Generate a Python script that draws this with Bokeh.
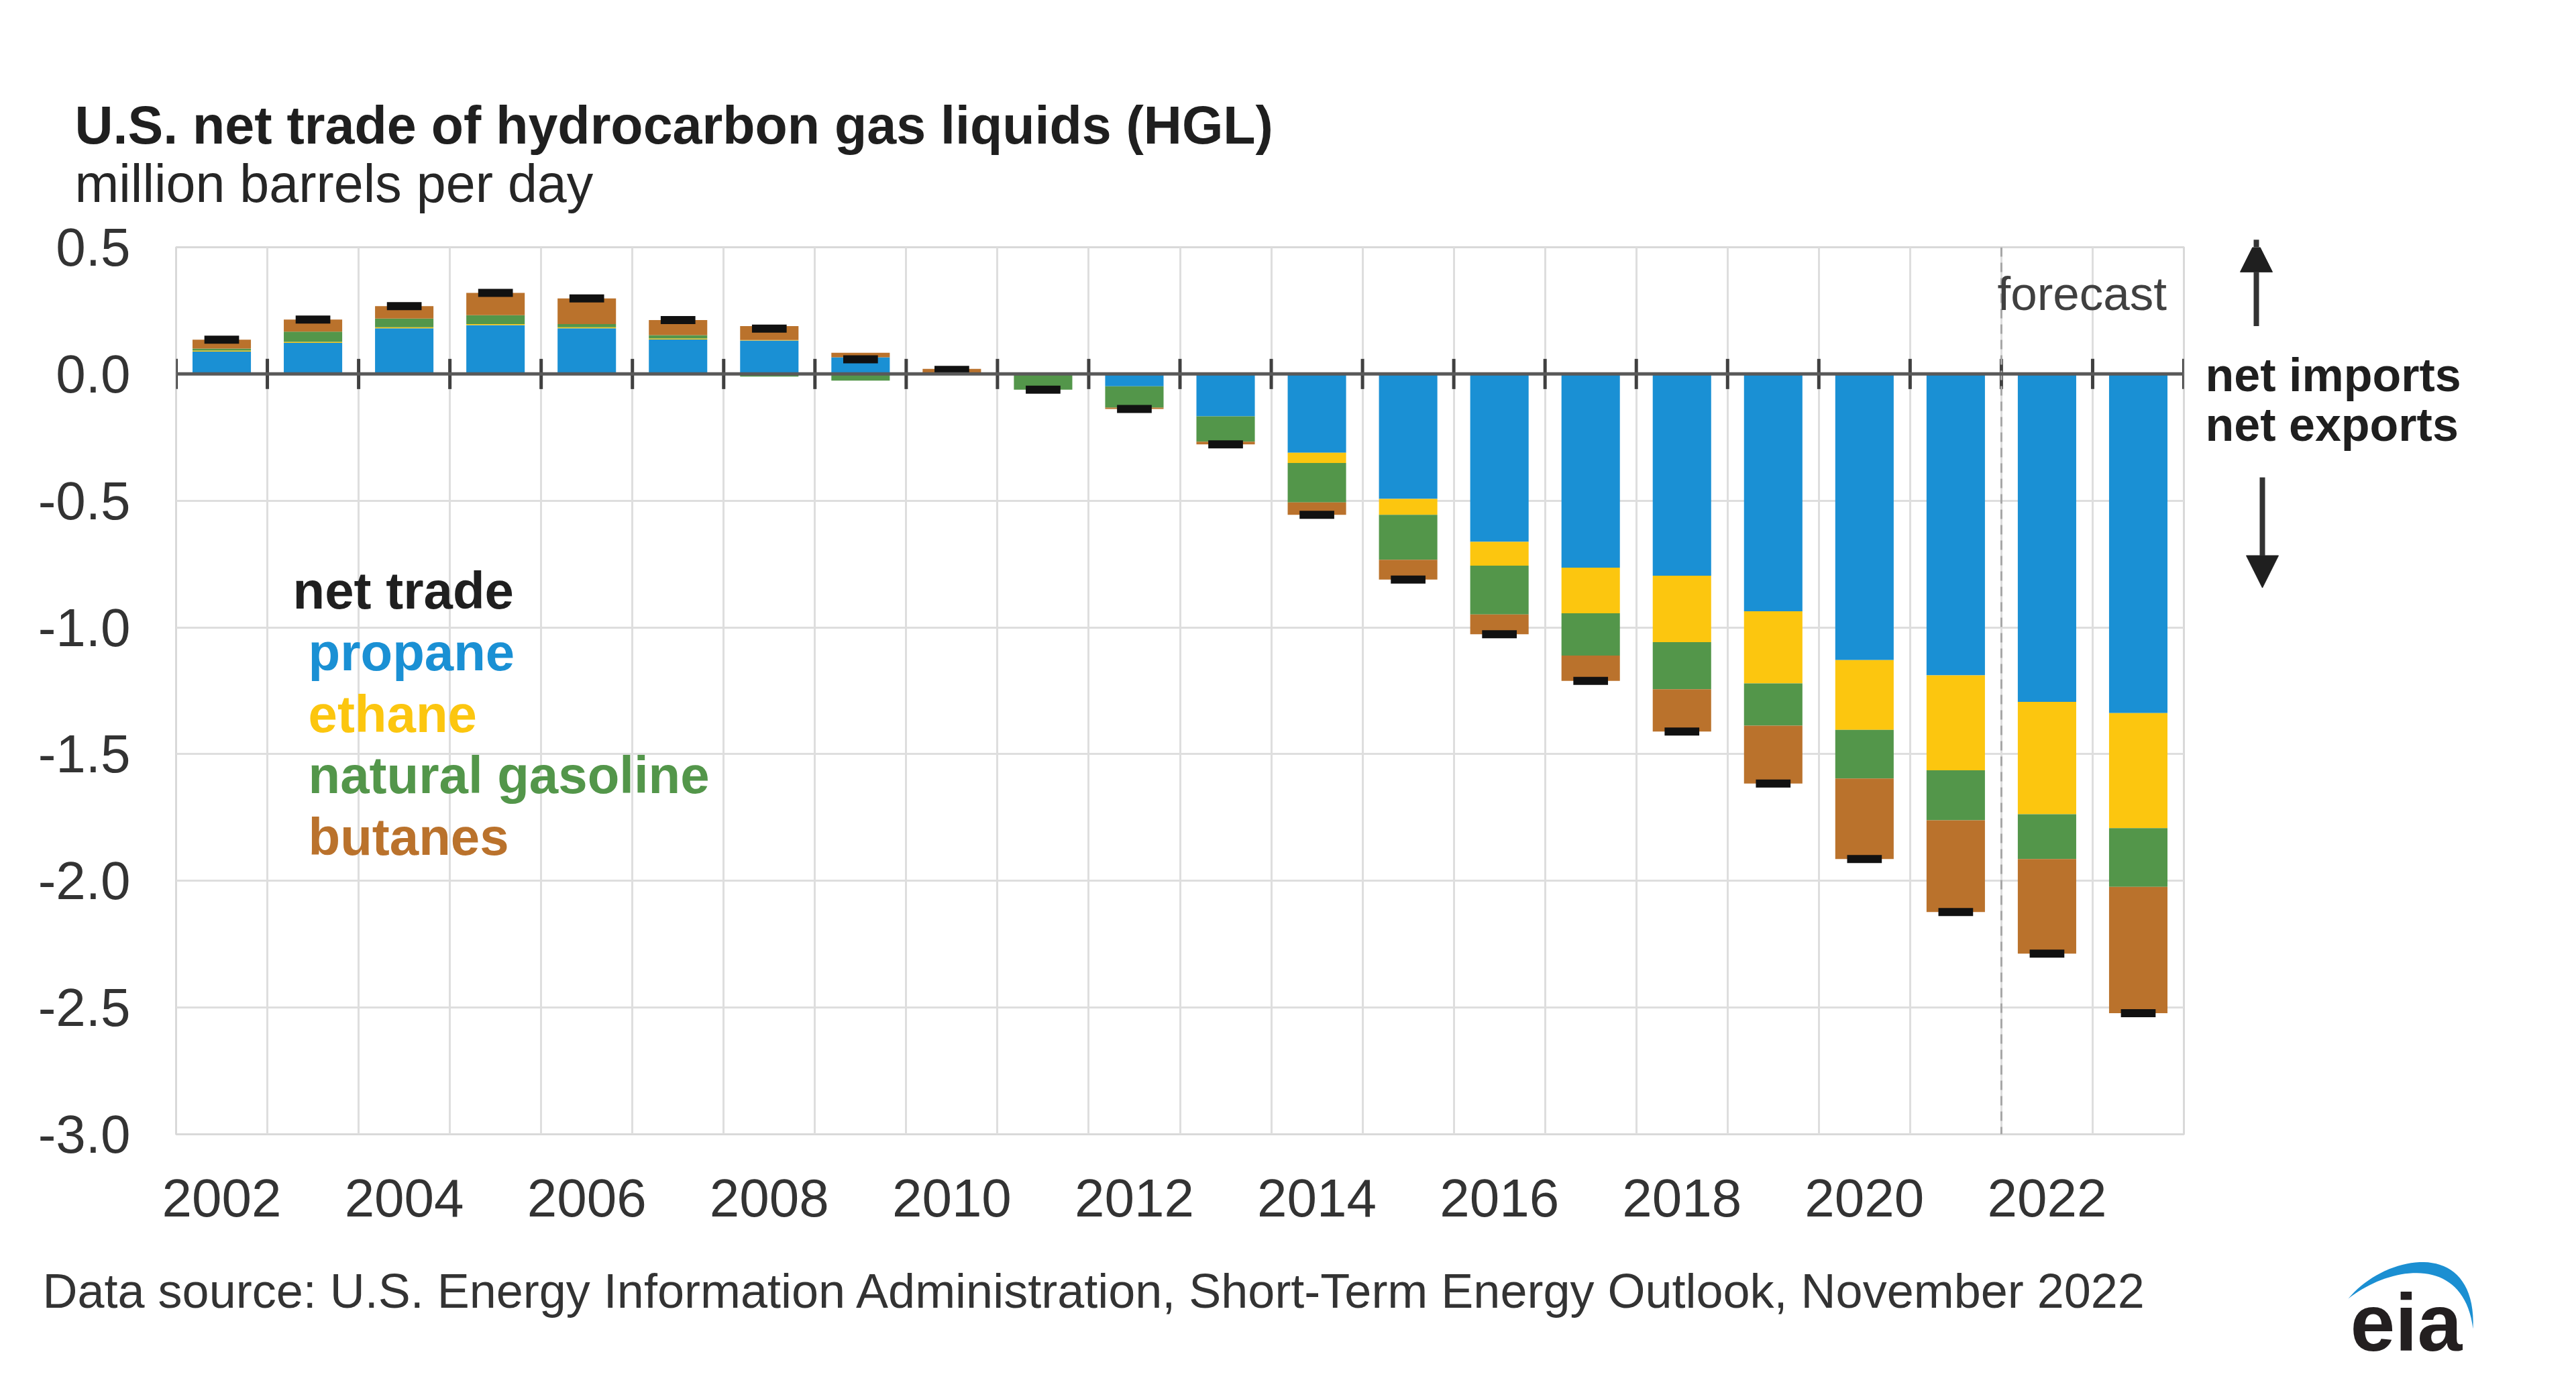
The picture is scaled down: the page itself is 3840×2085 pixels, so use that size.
import numpy as np
from bokeh.plotting import figure
from bokeh.layouts import column, row
from bokeh.models import (Range1d, FixedTicker, PrintfTickFormatter, Span, Label,
                          Arrow, NormalHead)
from bokeh.embed import file_html
from bokeh.resources import INLINE

# ---------------- data (million barrels per day) ----------------
years = list(range(2002, 2024))
propane = [0.088, 0.123, 0.180, 0.193, 0.180, 0.136, 0.132, 0.066, 0.004, -0.004, -0.049,
           -0.167, -0.311, -0.493, -0.662, -0.764, -0.796, -0.936, -1.129, -1.189, -1.294, -1.338]
ethane = [0.004, 0.004, 0.004, 0.004, 0.004, 0.004, 0.002, 0.0, 0.0, 0.0, 0.0,
          0.0, -0.040, -0.063, -0.094, -0.180, -0.262, -0.285, -0.275, -0.375, -0.443, -0.454]
natural_gasoline = [0.008, 0.040, 0.035, 0.035, 0.013, 0.013, -0.010, -0.026, -0.004, -0.058, -0.084,
                    -0.100, -0.156, -0.177, -0.193, -0.167, -0.186, -0.167, -0.192, -0.197, -0.177, -0.232]
butanes = [0.035, 0.048, 0.049, 0.088, 0.101, 0.060, 0.055, 0.018, 0.016, 0.0, -0.005,
           -0.011, -0.049, -0.078, -0.078, -0.100, -0.167, -0.228, -0.318, -0.362, -0.373, -0.498]

series_names = ["propane", "ethane", "natural gasoline", "butanes"]
series_values = [propane, ethane, natural_gasoline, butanes]
series_colors = ["#1a90d4", "#fcc60f", "#53964a", "#ba722c"]

y_ticks = [0.5, 0.0, -0.5, -1.0, -1.5, -2.0, -2.5, -3.0]
x_tick_years = [2002, 2004, 2006, 2008, 2010, 2012, 2014, 2016, 2018, 2020, 2022]
forecast_start = 2022

title_text = "U.S. net trade of hydrocarbon gas liquids (HGL)"
subtitle_text = "million barrels per day"
legend_title = "net trade"
source_text = "Data source: U.S. Energy Information Administration, Short-Term Energy Outlook, November 2022"

# ---------------- layout (page pixels) ----------------
TOTAL_W = 3820
HEAD_H = 318
MAIN_W, MAIN_H = 3275, 1542
FRAME_L, FRAME_T = 262, 50
FRAME_W, FRAME_H = 2993, 1322
RIGHT_W = TOTAL_W - MAIN_W
FOOT_T = HEAD_H + MAIN_H
FOOT_H = 220
X0, X1 = years[0] - 0.5, years[-1] + 0.5
Y0, Y1 = y_ticks[-1], y_ticks[0]
FONT = "Liberation Sans"
MID = 0.3465  # alphabetic baseline -> em-box middle (fraction of font size)


def blank_fig(w, h):
    f = figure(width=w, height=h, x_range=Range1d(0, w), y_range=Range1d(0, h),
               output_backend="svg", toolbar_location=None, min_border=0,
               x_axis_location=None, y_axis_location=None, title=None)
    f.grid.visible = False
    f.outline_line_color = None
    f.background_fill_color = "white"
    f.border_fill_color = "white"
    return f


def add_text(fig, mapx, mapy, txt, px, py, size, color="#1f1f1f", style="normal"):
    fig.add_layout(Label(x=mapx(px), y=mapy(py - MID * size), text=txt, text_font=FONT,
                         text_font_size=f"{size}px", text_color=color,
                         text_font_style=style, text_baseline="middle",
                         text_align="left"))


# ---------------- header ----------------
head = blank_fig(TOTAL_W, HEAD_H)
hx = lambda v: v
hy = lambda v: HEAD_H - v
add_text(head, hx, hy, title_text, 111, 213, 79, "#1f1f1f", "bold")
add_text(head, hx, hy, subtitle_text, 111, 300, 79, "#262626")

# ---------------- main chart ----------------
p = figure(width=MAIN_W, height=MAIN_H,
           min_border_left=FRAME_L, min_border_top=FRAME_T,
           min_border_right=MAIN_W - FRAME_L - FRAME_W,
           min_border_bottom=MAIN_H - FRAME_T - FRAME_H,
           x_range=Range1d(X0, X1), y_range=Range1d(Y0, Y1),
           output_backend="svg", toolbar_location=None, title=None)
p.background_fill_color = "white"
p.border_fill_color = "white"
p.outline_line_color = "#d9d9d9"
p.outline_line_width = 3


def mx(px):
    return X0 + (px - FRAME_L) / FRAME_W * (X1 - X0)


def my(py):
    return Y1 - (py - HEAD_H - FRAME_T) / FRAME_H * (Y1 - Y0)


boundaries = [y - 0.5 for y in years] + [years[-1] + 0.5]
p.xgrid.ticker = FixedTicker(ticks=boundaries)
p.xgrid.grid_line_color = "#dedede"
p.xgrid.grid_line_width = 3
p.ygrid.ticker = FixedTicker(ticks=y_ticks)
p.ygrid.grid_line_color = "#dedede"
p.ygrid.grid_line_width = 3

p.yaxis.ticker = FixedTicker(ticks=y_ticks)
p.yaxis.formatter = PrintfTickFormatter(format="%.1f")
p.xaxis.ticker = FixedTicker(ticks=x_tick_years)
p.xaxis.formatter = PrintfTickFormatter(format="%d")
for ax in (p.xaxis[0], p.yaxis[0]):
    ax.axis_line_color = None
    ax.major_tick_line_color = None
    ax.minor_tick_line_color = None
    ax.major_tick_out = 0
    ax.major_tick_in = 0
    ax.major_label_text_font = FONT
    ax.major_label_text_font_size = "80px"
    ax.major_label_text_color = "#333333"
p.yaxis.major_label_standoff = 68
p.xaxis.major_label_standoff = 67

# stacked bars (positives stack upward, negatives downward)
pos_base = np.zeros(len(years))
neg_base = np.zeros(len(years))
for name, vals, color in zip(series_names, series_values, series_colors):
    v = np.array(vals, dtype=float)
    bottom = np.where(v >= 0, pos_base, neg_base)
    top = bottom + v
    pos_base = np.where(v >= 0, top, pos_base)
    neg_base = np.where(v < 0, top, neg_base)
    p.vbar(x=years, width=0.64, bottom=bottom, top=top,
           fill_color=color, line_color=None)

p.add_layout(Span(location=forecast_start - 0.5, dimension="height",
                  line_color="#a6a6a6", line_width=3, line_dash="14 9"))
p.add_layout(Span(location=0, dimension="width", line_color="#595959", line_width=5))
p.scatter(x=boundaries, y=[0] * len(boundaries), marker="dash", size=45,
          angle=np.pi / 2, line_color="#404040", line_width=5)

net = np.array(series_values).sum(axis=0)
p.rect(x=years, y=net, width=0.38, height=12, height_units="screen",
       fill_color="#111111", line_color=None)

add_text(p, mx, my, legend_title, 436, 907, 78, "#1f1f1f", "bold")
for i, (name, color) in enumerate(zip(series_names, series_colors)):
    add_text(p, mx, my, name, 459, 999 + i * 91.5, 78, color, "bold")
add_text(p, mx, my, "forecast", 2977, 462, 71, "#404040")

# ---------------- right annotation panel ----------------
right = blank_fig(RIGHT_W, MAIN_H)
rx = lambda v: v - MAIN_W
ry = lambda v: (HEAD_H + MAIN_H) - v
add_text(right, rx, ry, "net imports", 3287, 564, 70, "#1f1f1f", "bold")
add_text(right, rx, ry, "net exports", 3287, 651, 70, "#1f1f1f", "bold")
right.add_layout(Arrow(end=NormalHead(size=48, fill_color="#1f1f1f", line_color="#1f1f1f"),
                       x_start=rx(3363), y_start=ry(455), x_end=rx(3363), y_end=ry(305),
                       line_color="#333333", line_width=8))
right.add_layout(Arrow(end=NormalHead(size=48, fill_color="#1f1f1f", line_color="#1f1f1f"),
                       x_start=rx(3372), y_start=ry(718), x_end=rx(3372), y_end=ry(910),
                       line_color="#333333", line_width=8))

# ---------------- footer ----------------
foot = blank_fig(TOTAL_W, FOOT_H)
fx = lambda v: v
fy = lambda v: (FOOT_T + FOOT_H) - v
add_text(foot, fx, fy, source_text, 63, 1948, 72, "#333333")
add_text(foot, fx, fy, "eia", 3503, 2012, 120, "#231f20", "bold")

t = np.linspace(0, 1, 40)


def bez(p0, p1, p2, p3):
    b = [(1 - t) ** 3, 3 * (1 - t) ** 2 * t, 3 * (1 - t) * t ** 2, t ** 3]
    xs = b[0] * p0[0] + b[1] * p1[0] + b[2] * p2[0] + b[3] * p3[0]
    ys = b[0] * p0[1] + b[1] * p1[1] + b[2] * p2[1] + b[3] * p3[1]
    return xs, ys

ox, oy = bez((3500, 1935), (3555, 1868), (3692, 1842), (3686, 1980))
ix, iy = bez((3686, 1980), (3672, 1868), (3562, 1886), (3500, 1935))
foot.patch(x=[fx(v) for v in np.concatenate([ox, ix])],
           y=[fy(v) for v in np.concatenate([oy, iy])],
           fill_color="#1b8fd2", line_color=None)

layout = column(head, row(p, right), foot)
open("out.html", "w").write(file_html(layout, INLINE))
